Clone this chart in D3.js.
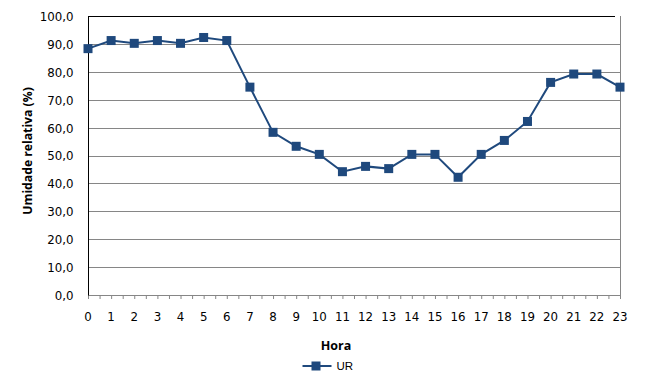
<!DOCTYPE html>
<html>
<head>
<meta charset="utf-8">
<script src="https://cdn.jsdelivr.net/npm/d3@7"></script>
<style>
  body { margin: 0; background: #fff; }
  svg text { fill: #000; }
</style>
</head>
<body>
<div id="chart"></div>
<script>
const hours = d3.range(0, 24);
const ur = [88.3, 91.2, 90.2, 91.2, 90.2, 92.3, 91.2, 74.5, 58.3, 53.3, 50.4, 44.2,
            46.1, 45.3, 50.4, 50.4, 42.2, 50.4, 55.4, 62.2, 76.2, 79.2, 79.2, 74.5];
const yTicks = [0, 10, 20, 30, 40, 50, 60, 70, 80, 90, 100];

const W = 661, H = 388;
const margin = { top: 16, right: 41, bottom: 93, left: 88 };
const width = W - margin.left - margin.right;
const height = H - margin.top - margin.bottom;
const blue = "#1f497d";

const svg = d3.select("#chart").append("svg")
  .attr("width", W).attr("height", H);

const g = svg.append("g")
  .attr("transform", `translate(${margin.left},${margin.top})`);

const x = d3.scaleLinear().domain([0, 23]).range([0, width]);
const y = d3.scaleLinear().domain([0, 100]).range([height, 0]);

// linhas de grade
g.selectAll(".grid")
  .data(yTicks.filter(d => d > 0 && d < 100))
  .enter().append("line")
  .attr("x1", 0).attr("x2", width)
  .attr("y1", d => Math.round(y(d)) + 0.5).attr("y2", d => Math.round(y(d)) + 0.5)
  .attr("stroke", "#868686").attr("stroke-width", 1);

// borda
g.append("line").attr("x1", width + 0.5).attr("x2", width + 0.5)
  .attr("y1", 0).attr("y2", height).attr("stroke", "#868686");
g.append("line").attr("x1", 0).attr("x2", width - 5)
  .attr("y1", 0.5).attr("y2", 0.5).attr("stroke", "#000");

// eixo x
const xAxis = g.append("g")
  .attr("transform", `translate(0,${height})`)
  .call(d3.axisBottom(x).tickValues(d3.range(0, 23.01, 0.5)).tickSize(4).tickFormat(""));
xAxis.select(".domain").attr("stroke", "#868686");
xAxis.selectAll(".tick line").attr("stroke", "#868686");

g.selectAll(".xlab")
  .data(hours)
  .enter().append("text")
  .attr("x", d => x(d))
  .attr("y", height + 26)
  .attr("text-anchor", "middle")
  .style("font", "11.8px 'DejaVu Sans'")
  .text(d => d);

// eixo y
const yAxis = g.append("g")
  .call(d3.axisLeft(y).tickValues(yTicks).tickSize(0).tickPadding(14.5)
    .tickFormat(d => d.toFixed(1).replace(".", ",")));
yAxis.select(".domain").attr("stroke", "#000");
yAxis.selectAll("text").style("font", "11.8px 'DejaVu Sans'").attr("fill", "#000").attr("dy", "0.38em");

// titulos
svg.append("text")
  .attr("transform", "translate(32,151) rotate(-90)")
  .attr("text-anchor", "middle")
  .style("font", "bold 12.2px 'Open Sans'")
  .text("Umidade relativa (%)");

svg.append("text")
  .attr("x", 336)
  .attr("y", 349.5)
  .attr("text-anchor", "middle")
  .style("font", "bold 12.5px 'Open Sans'")
  .text("Hora");

// serie
const line = d3.line().x((d, i) => x(hours[i])).y(d => y(d));
g.append("path")
  .datum(ur)
  .attr("d", line)
  .attr("fill", "none")
  .attr("stroke", blue)
  .attr("stroke-width", 2);

g.selectAll(".pt")
  .data(ur)
  .enter().append("rect")
  .attr("x", (d, i) => x(hours[i]) - 4.5)
  .attr("y", d => y(d) - 4.5)
  .attr("width", 9).attr("height", 9)
  .attr("fill", blue);

// legenda
const lg = svg.append("g").attr("transform", "translate(302.5,366)");
lg.append("line").attr("x1", 0).attr("x2", 29).attr("y1", 0).attr("y2", 0)
  .attr("stroke", blue).attr("stroke-width", 2);
lg.append("rect").attr("x", 9).attr("y", -4.5).attr("width", 9).attr("height", 9).attr("fill", blue);
lg.append("text").attr("x", 34).attr("y", 3.5)
  .style("font", "11.5px 'Liberation Sans'")
  .text("UR");
</script>
</body>
</html>
